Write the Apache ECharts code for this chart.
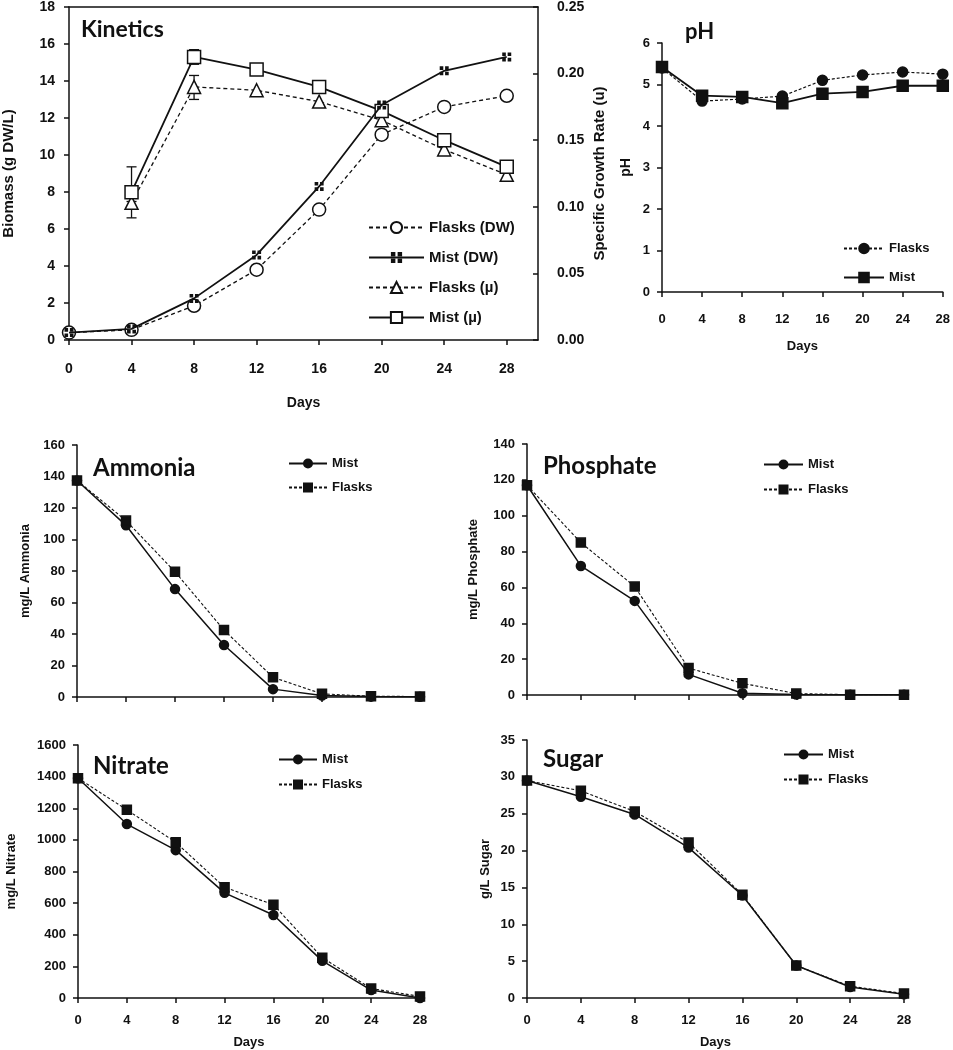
<!DOCTYPE html>
<html><head><meta charset="utf-8">
<script src="https://cdn.jsdelivr.net/npm/echarts@6/dist/echarts.min.js"></script>
<style>html,body{margin:0;padding:0;background:#fff}#c{width:953px;height:1050px}</style>
</head><body><div id="c"></div>
<script>
// ---------- data ----------
const days = [0, 4, 8, 12, 16, 20, 24, 28];
const dayTicks = [0, 4, 8, 12, 16, 20, 24, 28];
// Kinetics (biomass, g DW/L, left axis)
const flasksDW = [0.4, 0.55, 1.85, 3.8, 7.05, 11.1, 12.6, 13.2];
const mistDW   = [0.4, 0.6, 2.25, 4.6, 8.3, 12.7, 14.55, 15.3];
// Kinetics (specific growth rate, right axis)
const flasksMu = [null, 0.103, 0.190, 0.1875, 0.179, 0.165, 0.143, 0.124];
const mistMu   = [null, 0.111, 0.2125, 0.203, 0.190, 0.172, 0.150, 0.130];
const flasksMuErr = [[4, 0.0917, 0.104], [8, 0.1806, 0.1986]];
const mistMuErr   = [[4, 0.111, 0.130], [8, 0.207, 0.218]];
// pH
const phFlasks = [5.4, 4.6, 4.65, 4.72, 5.1, 5.23, 5.3, 5.25];
const phMist   = [5.42, 4.73, 4.7, 4.55, 4.78, 4.82, 4.97, 4.97];
// Ammonia mg/L
const nh4Mist   = [137.5, 109, 68.5, 33, 5, 1, 0.3, 0.2];
const nh4Flasks = [137.5, 112, 79.5, 42.5, 12.5, 2, 0.5, 0.3];
// Phosphate mg/L
const po4Mist   = [117, 72, 52.5, 11.5, 1, 0.3, 0.1, 0.1];
const po4Flasks = [117, 85, 60.5, 15, 6.5, 0.8, 0.2, 0.2];
// Nitrate mg/L
const no3Mist   = [1390, 1100, 935, 665, 525, 235, 50, 0];
const no3Flasks = [1390, 1190, 985, 700, 590, 255, 60, 10];
// Sugar g/L
const sugMist   = [29.5, 27.3, 24.9, 20.4, 13.9, 4.4, 1.5, 0.5];
const sugFlasks = [29.5, 28.1, 25.3, 21.1, 14.0, 4.4, 1.6, 0.6];

// ---------- helpers ----------
const INK = '#111';
const AF = 'Liberation Sans, Arial, sans-serif';
const TF = 'Lato, Open Sans, sans-serif';
const pairs = (ys) => days.map((d, i) => [d, ys[i]]).filter(p => p[1] != null);
const squares4 = 'path://M0,0h4v4h-4z M6,0h4v4h-4z M0,6h4v4h-4z M6,6h4v4h-4z';
const plain = v => String(v);

function xAx(gi, max, showLabel, fs, margin, name, nameGap) {
  return {
    type: 'value', gridIndex: gi, min: 0, max: max, interval: 4,
    axisLine: { show: true, onZero: false, lineStyle: { color: INK, width: 1.5 } },
    axisTick: { show: true, length: 5, customValues: dayTicks, lineStyle: { color: INK, width: 1.5 } },
    axisLabel: { show: showLabel, customValues: dayTicks, margin: margin, fontFamily: AF, fontWeight: 'bold', fontSize: fs, color: INK },
    splitLine: { show: false },
    name: name || '', nameLocation: 'middle', nameGap: nameGap || 30,
    nameTextStyle: { fontFamily: AF, fontWeight: 'bold', fontSize: fs, color: INK }
  };
}
function yAx(gi, max, interval, fs, margin, name, nameGap, nameFs, extra) {
  return Object.assign({
    type: 'value', gridIndex: gi, min: 0, max: max, interval: interval,
    axisLine: { show: true, onZero: false, lineStyle: { color: INK, width: 1.5 } },
    axisTick: { show: true, length: 5, lineStyle: { color: INK, width: 1.5 } },
    axisLabel: { margin: margin, fontFamily: AF, fontWeight: 'bold', fontSize: fs, color: INK, formatter: plain },
    splitLine: { show: false },
    name: name, nameLocation: 'middle', nameGap: nameGap, nameRotate: 90,
    nameTextStyle: { fontFamily: AF, fontWeight: 'bold', fontSize: nameFs, color: INK }
  }, extra || {});
}
function ser(name, xi, yi, ys, o) {
  return {
    type: 'line', name: name, xAxisIndex: xi, yAxisIndex: yi, data: pairs(ys),
    symbol: o.symbol, symbolSize: o.size, animation: false, z: o.z || 3,
    lineStyle: { color: INK, width: o.lw || 1.5, type: o.dash ? o.dash : 'solid' },
    itemStyle: { color: o.fill || INK, borderColor: INK, borderWidth: o.bw == null ? 1.5 : o.bw }
  };
}
function errSeries(name, data) {
  return {
    type: 'custom', name: name, xAxisIndex: 0, yAxisIndex: 1, data: data, z: 2, animation: false,
    renderItem: function (params, api) {
      const lo = api.coord([api.value(0), api.value(1)]);
      const hi = api.coord([api.value(0), api.value(2)]);
      const w = 5;
      return { type: 'group', children: [
        { type: 'line', shape: { x1: lo[0], y1: lo[1], x2: hi[0], y2: hi[1] }, style: { stroke: INK, lineWidth: 1.3 } },
        { type: 'line', shape: { x1: lo[0] - w, y1: lo[1], x2: lo[0] + w, y2: lo[1] }, style: { stroke: INK, lineWidth: 1.3 } },
        { type: 'line', shape: { x1: hi[0] - w, y1: hi[1], x2: hi[0] + w, y2: hi[1] }, style: { stroke: INK, lineWidth: 1.3 } }
      ]};
    }
  };
}
const strip = n => n.split('|')[0];
function leg(names, left, top, iw, ih, gap, fs) {
  return {
    data: names, left: left, top: top, orient: 'vertical', itemWidth: iw, itemHeight: ih, itemGap: gap,
    padding: 0, selectedMode: false, formatter: strip,
    textStyle: { fontFamily: AF, fontWeight: 'bold', fontSize: fs, color: INK }
  };
}
const titleStyle = fs => ({ fontFamily: TF, fontWeight: 'bold', fontSize: fs, color: INK });

// ---------- option ----------
const option = {
  backgroundColor: '#fff',
  animation: false,
  title: [
    { text: 'Kinetics', left: 81, top: 18, padding: 0, textStyle: titleStyle(23) },
    { text: 'pH', left: 685, top: 21, padding: 0, textStyle: titleStyle(22) },
    { text: 'Ammonia', left: 93, top: 456, padding: 0, textStyle: titleStyle(24) },
    { text: 'Phosphate', left: 543, top: 454, padding: 0, textStyle: titleStyle(24) },
    { text: 'Nitrate', left: 93, top: 754, padding: 0, textStyle: titleStyle(24) },
    { text: 'Sugar', left: 543, top: 747, padding: 0, textStyle: titleStyle(24) }
  ],
  grid: [
    { left: 69, top: 7, width: 469, height: 333 },
    { left: 662, top: 43, width: 282, height: 249 },
    { left: 77, top: 445, width: 343, height: 252 },
    { left: 527, top: 444, width: 377, height: 251 },
    { left: 78, top: 745, width: 342, height: 253 },
    { left: 527, top: 740, width: 377, height: 258 }
  ],
  xAxis: [
    xAx(0, 30, true, 14, 22, 'Days', 56),
    { type: 'value', gridIndex: 0, position: 'top', min: 0, max: 30,
      axisLine: { show: true, onZero: false, lineStyle: { color: INK, width: 1.5 } },
      axisTick: { show: false }, axisLabel: { show: false }, splitLine: { show: false } },
    xAx(1, 28, true, 13, 21, 'Days', 48),
    xAx(2, 28, false, 13, 14),
    xAx(3, 28, false, 13, 14),
    xAx(4, 28, true, 13, 16, 'Days', 38),
    xAx(5, 28, true, 13, 16, 'Days', 38)
  ],
  yAxis: [
    yAx(0, 18, 2, 14, 14, 'Biomass (g DW/L)', 53, 15),
    yAx(0, 0.25, 0.05, 14, 19, 'Specific Growth Rate (u)', 54, 15, {
      position: 'right',
      axisTick: { show: true, inside: true, length: 5, lineStyle: { color: INK, width: 1.5 } },
      axisLabel: { margin: 19, fontFamily: AF, fontWeight: 'bold', fontSize: 14, color: INK, formatter: v => v.toFixed(2) },
      nameRotate: 90
    }),
    yAx(1, 6, 1, 13, 12, 'pH', 29, 14),
    yAx(2, 160, 20, 13, 12, 'mg/L Ammonia', 45, 13),
    yAx(3, 140, 20, 13, 12, 'mg/L Phosphate', 47, 13),
    yAx(4, 1600, 200, 13, 12, 'mg/L Nitrate', 60, 13),
    yAx(5, 35, 5, 13, 12, 'g/L Sugar', 35, 13)
  ],
  legend: [
    leg(['Flasks (DW)', 'Mist (DW)', 'Flasks (µ)', 'Mist (µ)'], 368, 220, 55, 14, 15, 15),
    leg(['Flasks|ph', 'Mist|ph'], 843, 242, 40, 12, 16, 13),
    leg(['Mist|nh4', 'Flasks|nh4'], 288, 457, 38, 10, 11, 13),
    leg(['Mist|po4', 'Flasks|po4'], 763, 458, 39, 10, 12, 13),
    leg(['Mist|no3', 'Flasks|no3'], 278, 753, 38, 10, 12, 13),
    leg(['Mist|sug', 'Flasks|sug'], 783, 748, 39, 10, 12, 13)
  ],
  series: [
    errSeries('errF', flasksMuErr),
    errSeries('errM', mistMuErr),
    ser('Flasks (DW)', 0, 0, flasksDW, { symbol: 'circle', size: 13, fill: '#fff', dash: [4, 3], lw: 1.3 }),
    ser('Mist (DW)', 0, 0, mistDW, { symbol: squares4, size: 9, fill: INK, bw: 0, lw: 1.8, z: 4 }),
    ser('Flasks (µ)', 0, 1, flasksMu, { symbol: 'triangle', size: 13, fill: '#fff', dash: [4, 3], lw: 1.3 }),
    ser('Mist (µ)', 0, 1, mistMu, { symbol: 'rect', size: 13, fill: '#fff', lw: 1.8 }),

    ser('Flasks|ph', 2, 2, phFlasks, { symbol: 'circle', size: 10, dash: [3, 2], lw: 1.2 }),
    ser('Mist|ph', 2, 2, phMist, { symbol: 'rect', size: 11, lw: 1.8 }),

    ser('Mist|nh4', 3, 3, nh4Mist, { symbol: 'circle', size: 9, lw: 1.5 }),
    ser('Flasks|nh4', 3, 3, nh4Flasks, { symbol: 'rect', size: 9, dash: [3, 2], lw: 1.1 }),

    ser('Mist|po4', 4, 4, po4Mist, { symbol: 'circle', size: 9, lw: 1.5 }),
    ser('Flasks|po4', 4, 4, po4Flasks, { symbol: 'rect', size: 9, dash: [3, 2], lw: 1.1 }),

    ser('Mist|no3', 5, 5, no3Mist, { symbol: 'circle', size: 9, lw: 1.5 }),
    ser('Flasks|no3', 5, 5, no3Flasks, { symbol: 'rect', size: 9, dash: [3, 2], lw: 1.1 }),

    ser('Mist|sug', 6, 6, sugMist, { symbol: 'circle', size: 9, lw: 1.5 }),
    ser('Flasks|sug', 6, 6, sugFlasks, { symbol: 'rect', size: 9, dash: [3, 2], lw: 1.1 })
  ]
};

const chart = echarts.init(document.getElementById('c'), null, { renderer: 'canvas' });
chart.setOption(option);
</script>
</body></html>
